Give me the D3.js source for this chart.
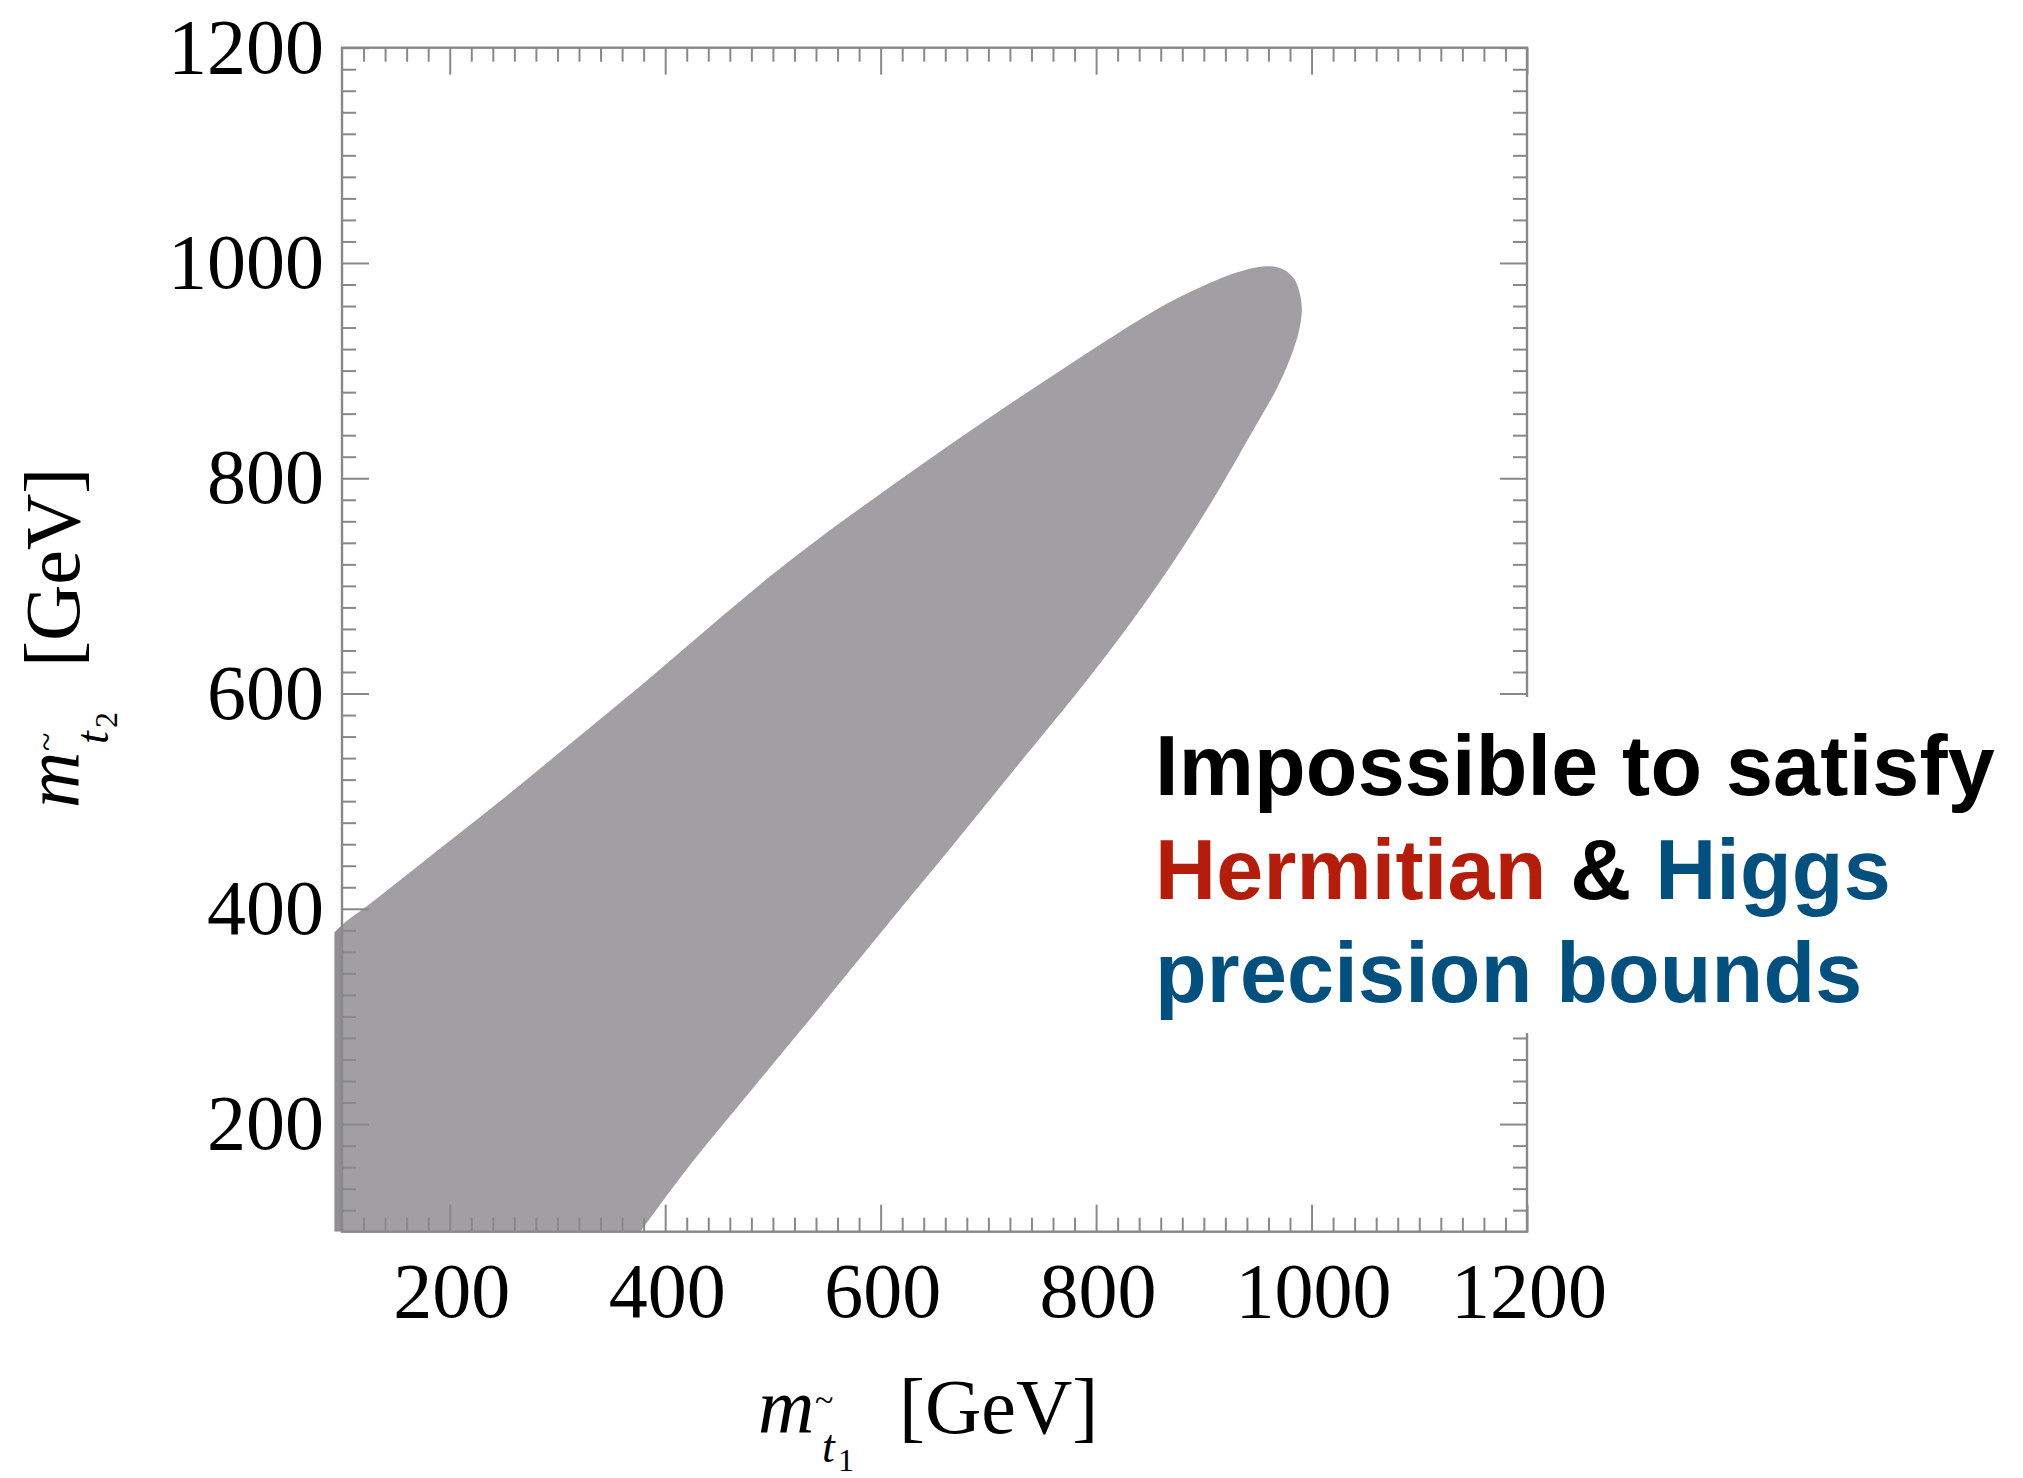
<!DOCTYPE html>
<html>
<head>
<meta charset="utf-8">
<script src="https://cdn.jsdelivr.net/npm/d3@7"></script>
<style>
  html, body { margin: 0; padding: 0; background: #ffffff; }
  svg { display: block; }
</style>
</head>
<body>
<svg id="chart" width="2023" height="1478"></svg>
<script>
// Stop mass plane (GeV)
const axisDomain = [100, 1200];
const majorTicks = [200, 400, 600, 800, 1000, 1200];
const tickLabels = ["200", "400", "600", "800", "1000", "1200"];
const minorStep = 20;

// Excluded region boundary, [m_t1, m_t2] in GeV.
// Straight part along the lower-left border of the plot
const cornerEdge = [[93, 378], [93, 100], [377, 100]];
// Lower (right-hand) edge from the bottom border up to the tip
const lowerEdge = [
  [377, 100], [420, 158], [482, 234], [544, 309], [606, 385],
  [667, 459], [723, 528], [781, 599], [819, 648], [853, 695], [884, 741], [915, 791],
  [946, 845], [969, 886], [983, 919], [989, 940], [991, 957], [989, 972],
  [984, 985], [974, 994]
];
// Upper (left-hand) edge from the tip back to the left border
const upperEdge = [
  [958, 997], [927, 990], [881, 970], [853, 955], [791, 916], [729, 875],
  [667, 833], [606, 790], [544, 745], [500, 711], [439, 660], [377, 607],
  [315, 556], [253, 505], [191, 456], [129, 407], [100, 385], [93, 378]
];

// Annotation lines, each a list of [text, colour] runs
const noteLines = [
  [["Impossible to satisfy", "#000000"]],
  [["Hermitian", "#b41c0c"], [" & ", "#000000"], ["Higgs", "#03507f"]],
  [["precision bounds", "#03507f"]]
];

const regionColor = "#a19fa4";
const regionEdgeColor = "#8f8e93";
const frameColor = "#888888";

const svg = d3.select("#chart");
const W = 2023, H = 1478;
const plot = { left: 342, right: 1527, top: 47.7, bottom: 1231.7 };

const x = d3.scaleLinear().domain(axisDomain).range([plot.left, plot.right]);
const y = d3.scaleLinear().domain(axisDomain).range([plot.bottom, plot.top]);

svg.append("rect").attr("width", W).attr("height", H).attr("fill", "#fff");

const defs = svg.append("defs");
defs.append("clipPath").attr("id", "plotClip")
  .append("rect")
  .attr("x", plot.left).attr("y", plot.top)
  .attr("width", plot.right - plot.left).attr("height", plot.bottom - plot.top);
defs.append("clipPath").attr("id", "stripClip")
  .append("rect")
  .attr("x", 0).attr("y", plot.top)
  .attr("width", plot.left).attr("height", plot.bottom - plot.top);

// Region: smooth curved boundary joined to the straight border segment
const smoothLine = d3.line().x(d => x(d[0])).y(d => y(d[1])).curve(d3.curveCatmullRom.alpha(0.5));
const straightLine = d3.line().x(d => x(d[0])).y(d => y(d[1]));
const curvedPart = smoothLine(lowerEdge.concat(upperEdge));
const borderPart = straightLine(cornerEdge).replace(/^M/, "L");
const regionPath = curvedPart + borderPart + "Z";

svg.append("path")
  .attr("d", regionPath)
  .attr("fill", regionColor)
  .attr("clip-path", "url(#plotClip)");
svg.append("path")
  .attr("d", regionPath)
  .attr("fill", regionEdgeColor)
  .attr("clip-path", "url(#stripClip)");

// Frame and ticks
const minorTicks = d3.range(axisDomain[0], axisDomain[1] + 1, minorStep)
  .filter(v => !majorTicks.includes(v) && v > axisDomain[0] && v < axisDomain[1]);
const majorLen = 27, minorLen = 14;

function frameAxis(axisGen, transform, ticks, len) {
  const g = svg.append("g").attr("transform", transform)
    .call(axisGen.tickValues(ticks).tickSize(len).tickSizeOuter(0).tickFormat(""));
  g.select(".domain").remove();
  g.selectAll(".tick line").attr("stroke", frameColor).attr("stroke-width", 2);
  return g;
}
// bottom: ticks pointing inward (up)
frameAxis(d3.axisTop(x), `translate(0,${plot.bottom})`, majorTicks, majorLen);
frameAxis(d3.axisTop(x), `translate(0,${plot.bottom})`, minorTicks, minorLen);
// top: pointing down
frameAxis(d3.axisBottom(x), `translate(0,${plot.top})`, majorTicks, majorLen);
frameAxis(d3.axisBottom(x), `translate(0,${plot.top})`, minorTicks, minorLen);
// left: pointing right
frameAxis(d3.axisRight(y), `translate(${plot.left},0)`, majorTicks, majorLen);
frameAxis(d3.axisRight(y), `translate(${plot.left},0)`, minorTicks, minorLen);
// right: pointing left
frameAxis(d3.axisLeft(y), `translate(${plot.right},0)`, majorTicks, majorLen);
frameAxis(d3.axisLeft(y), `translate(${plot.right},0)`, minorTicks, minorLen);

svg.append("rect")
  .attr("x", plot.left).attr("y", plot.top)
  .attr("width", plot.right - plot.left).attr("height", plot.bottom - plot.top)
  .attr("fill", "none").attr("stroke", frameColor).attr("stroke-width", 2.4);

// Tick labels
const serif = "'Liberation Serif', 'Times New Roman', Times, serif";
const labelSize = 78;
svg.append("g").selectAll("text").data(majorTicks).join("text")
  .attr("x", d => x(d) + 2).attr("y", plot.bottom + 85)
  .attr("text-anchor", "middle")
  .attr("font-family", serif).attr("font-size", labelSize).attr("fill", "#000")
  .text((d, i) => tickLabels[i]);
svg.append("g").selectAll("text").data(majorTicks).join("text")
  .attr("x", plot.left - 18).attr("y", d => y(d) + 25)
  .attr("text-anchor", "end")
  .attr("font-family", serif).attr("font-size", labelSize).attr("fill", "#000")
  .text((d, i) => tickLabels[i]);

// Axis titles: m with stop subscript, then [GeV]
function massLabel(g, index) {
  const t = (txt, px, py, size, italic) => g.append("text")
    .attr("x", px).attr("y", py)
    .attr("font-family", serif).attr("font-size", size)
    .attr("font-style", italic ? "italic" : "normal")
    .attr("fill", "#000").text(txt);
  t("m", 0, 0, 78, true);
  t("~", 57, -22, 34, false);
  t("t", 64, 29, 46, true);
  t(index, 80, 38, 32, false);
  t("[GeV]", 141, 0, 78, false);
}
massLabel(svg.append("g").attr("transform", "translate(758,1433)"), "1");
massLabel(svg.append("g").attr("transform", "translate(79,808) rotate(-90)"), "2");

// Annotation with white backing that interrupts the right frame
svg.append("rect")
  .attr("x", 1140).attr("y", 697).attr("width", W - 1140).attr("height", 336)
  .attr("fill", "#fff");
const sans = "'Liberation Sans', Arial, Helvetica, sans-serif";
const baselines = [795, 899, 1002];
noteLines.forEach((runs, i) => {
  const tx = svg.append("text")
    .attr("x", 1155).attr("y", baselines[i])
    .attr("font-family", sans).attr("font-weight", "bold").attr("font-size", 84.5)
    .attr("letter-spacing", 0.2)
    .attr("xml:space", "preserve");
  runs.forEach(([s, c]) => tx.append("tspan").attr("fill", c).text(s));
});
</script>
</body>
</html>
